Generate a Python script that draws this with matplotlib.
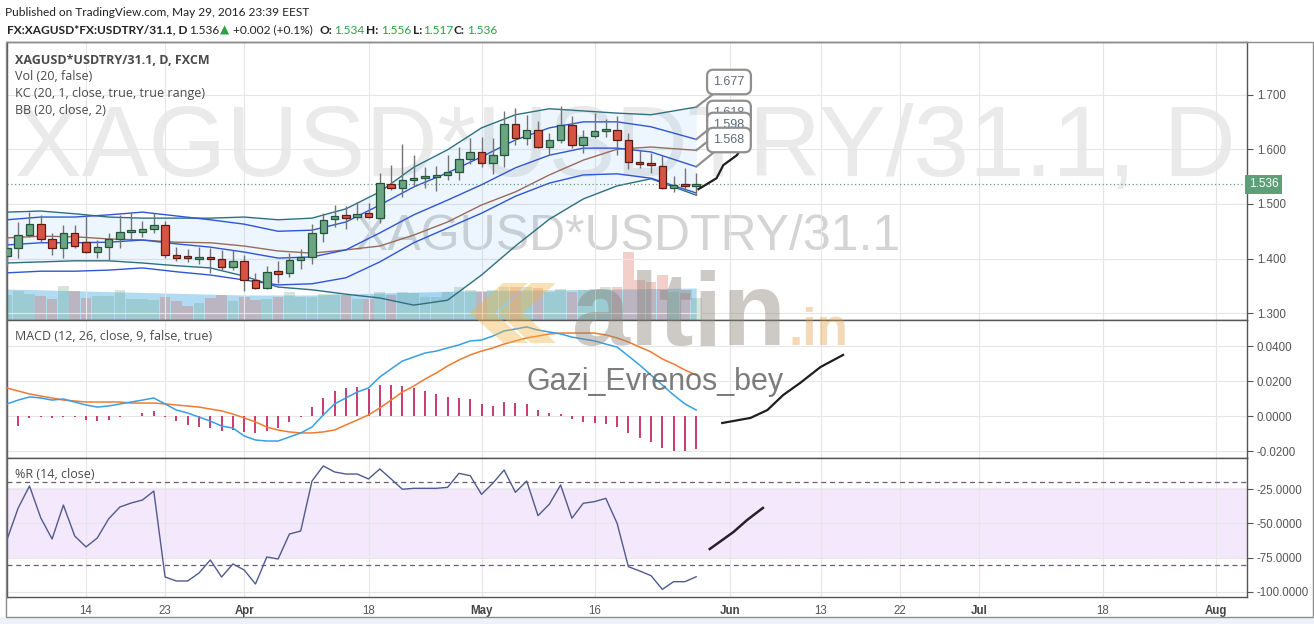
import numpy as np
import matplotlib
matplotlib.use("Agg")
import matplotlib.pyplot as plt
from matplotlib.patches import Polygon, Rectangle

# bar index 0 = 14 Mar 2016, one step per trading day, last bar = 27 May 2016
first_bar = -7
opens = [1.404, 1.419, 1.443, 1.463, 1.435, 1.419, 1.446, 1.431, 1.413, 1.421, 1.435, 1.448, 1.449, 1.454,
         1.461, 1.406, 1.404, 1.399, 1.403, 1.399, 1.384, 1.396, 1.361, 1.346, 1.376, 1.373, 1.398, 1.403,
         1.446, 1.472, 1.478, 1.476, 1.483, 1.474, 1.537, 1.530, 1.544, 1.547, 1.550, 1.553, 1.558, 1.583,
         1.594, 1.574, 1.589, 1.647, 1.620, 1.636, 1.604, 1.616, 1.644, 1.607, 1.625, 1.633, 1.636, 1.616,
         1.577, 1.574, 1.570, 1.530, 1.535, 1.534]
highs = [1.440, 1.467, 1.486, 1.480, 1.446, 1.462, 1.462, 1.480, 1.434, 1.446, 1.480, 1.486, 1.468, 1.483,
         1.468, 1.422, 1.417, 1.421, 1.419, 1.416, 1.416, 1.407, 1.373, 1.387, 1.395, 1.410, 1.417, 1.463,
         1.483, 1.498, 1.496, 1.503, 1.502, 1.557, 1.571, 1.610, 1.589, 1.567, 1.569, 1.589, 1.604, 1.621,
         1.623, 1.621, 1.669, 1.675, 1.663, 1.652, 1.629, 1.679, 1.661, 1.636, 1.667, 1.656, 1.661, 1.629,
         1.599, 1.593, 1.589, 1.551, 1.565, 1.556]
lows = [1.386, 1.401, 1.440, 1.431, 1.407, 1.401, 1.419, 1.410, 1.401, 1.398, 1.419, 1.434, 1.440, 1.446,
        1.401, 1.395, 1.393, 1.390, 1.373, 1.379, 1.379, 1.340, 1.344, 1.344, 1.355, 1.366, 1.381, 1.390,
        1.431, 1.457, 1.454, 1.471, 1.474, 1.466, 1.526, 1.512, 1.532, 1.530, 1.523, 1.544, 1.544, 1.573,
        1.568, 1.555, 1.568, 1.608, 1.608, 1.602, 1.589, 1.612, 1.602, 1.593, 1.620, 1.623, 1.589, 1.564,
        1.565, 1.556, 1.527, 1.522, 1.526, 1.517]
closes = [1.419, 1.443, 1.463, 1.435, 1.419, 1.446, 1.423, 1.413, 1.421, 1.435, 1.448, 1.453, 1.454, 1.461,
          1.406, 1.401, 1.401, 1.403, 1.399, 1.384, 1.396, 1.361, 1.346, 1.375, 1.373, 1.398, 1.403, 1.446,
          1.471, 1.478, 1.476, 1.482, 1.476, 1.538, 1.530, 1.544, 1.547, 1.551, 1.553, 1.559, 1.583, 1.594,
          1.574, 1.589, 1.647, 1.620, 1.636, 1.604, 1.617, 1.644, 1.607, 1.623, 1.633, 1.636, 1.617, 1.576,
          1.573, 1.571, 1.530, 1.535, 1.534, 1.536]
volumes = [25, 29, 26, 24, 21, 34, 29, 22, 24, 24, 30, 21, 21, 20,
           23, 19, 14, 17, 22, 25, 19, 23, 20, 21, 23, 28, 23, 23,
           26, 26, 25, 21, 21, 28, 25, 28, 27, 23, 23, 28, 33, 30,
           28, 30, 33, 33, 33, 32, 28, 31, 28, 30, 31, 33, 33, 68,
           40, 38, 45, 28, 27, 22]
vol_ma_idx = [-7, 0, 7, 14, 20, 26, 33, 40, 47, 54]
vol_ma = [31, 29, 27, 25, 25, 27, 29, 30, 31, 32]

# Bollinger (20, 2) and Keltner (20, 1) channels read at every third bar
band_idx = [-7, -4, -1, 2, 5, 8, 11, 14, 17, 20, 23, 26, 29, 32, 35, 38, 41, 44, 47, 50, 54]
bb_upper = [1.485, 1.487, 1.482, 1.476, 1.474, 1.474, 1.474, 1.476, 1.471, 1.474, 1.491, 1.522, 1.567, 1.599,
            1.639, 1.663, 1.674, 1.670, 1.666, 1.663, 1.677]
bb_basis = [1.438, 1.441, 1.440, 1.436, 1.434, 1.430, 1.429, 1.423, 1.414, 1.410, 1.416, 1.423, 1.443, 1.467,
            1.498, 1.522, 1.553, 1.580, 1.600, 1.604, 1.598]
bb_lower = [1.392, 1.394, 1.396, 1.396, 1.392, 1.387, 1.383, 1.368, 1.348, 1.343, 1.335, 1.328, 1.315, 1.324,
            1.370, 1.423, 1.472, 1.509, 1.533, 1.546, 1.516]
kc_upper = [1.471, 1.476, 1.476, 1.480, 1.485, 1.478, 1.471, 1.463, 1.450, 1.452, 1.467, 1.498, 1.531, 1.557,
            1.586, 1.617, 1.639, 1.650, 1.650, 1.641, 1.618]
kc_basis = [1.425, 1.429, 1.429, 1.430, 1.434, 1.427, 1.421, 1.412, 1.401, 1.403, 1.416, 1.447, 1.480, 1.507,
            1.535, 1.566, 1.589, 1.602, 1.602, 1.595, 1.568]
kc_lower = [1.374, 1.377, 1.377, 1.379, 1.383, 1.376, 1.370, 1.361, 1.352, 1.354, 1.365, 1.394, 1.429, 1.456,
            1.483, 1.514, 1.538, 1.553, 1.555, 1.547, 1.520]
callout_vals = [1.677, 1.618, 1.598, 1.568]
last_price = 1.536

macd = [0.0069, 0.0091, 0.0109, 0.0103, 0.0091, 0.0097, 0.0080, 0.0063, 0.0051, 0.0057, 0.0069, 0.0080,
        0.0091, 0.0103, 0.0069, 0.0034, 0.0017, -0.0006, -0.0029, -0.0057, -0.0069, -0.0114, -0.0137,
        -0.0143, -0.0143, -0.0120, -0.0097, -0.0063, 0.0006, 0.0069, 0.0103, 0.0137, 0.0160, 0.0223,
        0.0269, 0.0314, 0.0337, 0.0360, 0.0371, 0.0389, 0.0406, 0.0429, 0.0434, 0.0457, 0.0486, 0.0497,
        0.0509, 0.0491, 0.0480, 0.0469, 0.0451, 0.0440, 0.0429, 0.0411, 0.0394, 0.0343, 0.0291, 0.0234,
        0.0177, 0.0120, 0.0069, 0.0034]
signal = [0.0160, 0.0143, 0.0126, 0.0114, 0.0103, 0.0091, 0.0086, 0.0080, 0.0080, 0.0080, 0.0080, 0.0074,
          0.0074, 0.0074, 0.0069, 0.0063, 0.0057, 0.0051, 0.0040, 0.0029, 0.0011, -0.0011, -0.0034,
          -0.0063, -0.0080, -0.0091, -0.0097, -0.0097, -0.0091, -0.0080, -0.0051, -0.0023, 0.0006, 0.0046,
          0.0091, 0.0137, 0.0171, 0.0211, 0.0246, 0.0286, 0.0320, 0.0349, 0.0371, 0.0389, 0.0411, 0.0429,
          0.0446, 0.0457, 0.0469, 0.0474, 0.0474, 0.0474, 0.0474, 0.0463, 0.0446, 0.0423, 0.0394, 0.0366,
          0.0326, 0.0297, 0.0263, 0.0234]
hist = [-0.0090, -0.0057, -0.0013, -0.0008, -0.0010, -0.0004, -0.0008, -0.0023, -0.0027, -0.0023, -0.0004,
        0.0002, 0.0015, 0.0030, -0.0004, -0.0027, -0.0051, -0.0061, -0.0070, -0.0084, -0.0080, -0.0090,
        -0.0099, -0.0084, -0.0070, -0.0032, -0.0004, 0.0050, 0.0101, 0.0145, 0.0158, 0.0164, 0.0155,
        0.0177, 0.0177, 0.0171, 0.0158, 0.0145, 0.0126, 0.0107, 0.0101, 0.0095, 0.0069, 0.0057, 0.0080,
        0.0076, 0.0069, 0.0034, 0.0015, 0.0010, -0.0019, -0.0032, -0.0038, -0.0046, -0.0061, -0.0095,
        -0.0128, -0.0147, -0.0181, -0.0198, -0.0198, -0.0187]
willr = [-62.1, -38.8, -22.8, -46.1, -61.4, -36.7, -59.2, -67.2, -60.7, -46.8, -38.1, -35.2, -33.0, -26.5,
         -89.1, -92.0, -92.0, -86.2, -76.7, -89.1, -79.6, -84.0, -94.2, -74.5, -76.0, -57.8, -55.6, -19.2,
         -8.2, -12.6, -14.1, -14.1, -17.7, -10.4, -17.7, -25.2, -24.5, -24.5, -24.5, -23.8, -13.6, -15.3,
         -28.9, -20.8, -11.2, -27.4, -19.2, -44.4, -36.1, -22.1, -46.3, -35.4, -34.2, -31.8, -50.0, -81.6,
         -84.7, -88.1, -98.1, -92.5, -92.5, -88.9]

# hand drawn projections on the published chart (bar index, value)
proj_price_x = [54.2, 55.8, 56.4, 57.0, 57.6, 57.9]
proj_price_y = [1.527, 1.547, 1.571, 1.580, 1.589, 1.599]
proj_macd_x = [56.3, 58.8, 60.3, 61.7, 63.2, 65.0, 67.0]
proj_macd_y = [-0.0040, -0.0011, 0.0034, 0.0120, 0.0189, 0.0280, 0.0349]
proj_wr_x = [55.2, 57.3, 58.5, 59.9]
proj_wr_y = [-68.7, -56.3, -47.6, -38.8]

tick_idx = [0, 7, 14, 25, 35, 45, 57, 65, 72, 79, 90, 100]
tick_labels = ["14", "23", "Apr", "18", "May", "16", "Jun", "13", "22", "Jul", "18", "Aug"]
months = ["Apr", "May", "Jun", "Jul", "Aug"]

W, H = 1314, 624
plt.rcParams["font.family"] = ["Liberation Sans", "DejaVu Sans"]
fig = plt.figure(figsize=(W / 100, H / 100), dpi=100)
fig.patch.set_facecolor("white")


def rect(x0, y0, x1, y1):
    return [x0 / W, 1 - y1 / H, (x1 - x0) / W, (y1 - y0) / H]


def fx(px):
    return px / W


def fy(py):
    return 1 - py / H


# background strip under the time scale and outer frame
fig.add_artist(Rectangle((0, 0), 1, fy(617), transform=fig.transFigure, fc="#eef1f6", ec="none", zorder=-5))
fig.add_artist(Rectangle((fx(6), fy(617)), fx(1307), (617 - 42) / H, transform=fig.transFigure,
                         fill=False, ec="#8c8c8c", lw=1, zorder=10))

ax_p = fig.add_axes(rect(7, 42, 1247, 320))
ax_v = ax_p.twinx()
ax_m = fig.add_axes(rect(7, 320, 1247, 458))
ax_r = fig.add_axes(rect(7, 458, 1247, 597))

xmin, xmax = -6.99, 102.74
x = np.arange(first_bar, first_bar + len(closes))
grid_c = "#e6e6e6"
tick_c = "#555555"

for ax in (ax_p, ax_m, ax_r):
    ax.set_xlim(xmin, xmax)
    ax.yaxis.tick_right()
    ax.set_xticks(tick_idx)
    ax.grid(True, color=grid_c, lw=0.8)
    ax.set_axisbelow(True)
    ax.tick_params(axis="y", length=4, width=0.8, color=tick_c, labelcolor=tick_c, labelsize=8.3, pad=3)
    ax.tick_params(axis="x", length=0, labelbottom=False)
    for s in ax.spines.values():
        s.set_color("#555555")
        s.set_linewidth(1)

# ---- volume (behind the price pane)
ax_v.set_zorder(ax_p.get_zorder() - 1)
ax_p.patch.set_visible(False)
ax_v.set_ylim(0, 278)
ax_v.set_yticks([])
ax_v.tick_params(axis="y", length=0, labelright=False)
for s in ax_v.spines.values():
    s.set_visible(False)
o, h, l, c = map(np.array, (opens, highs, lows, closes))
up = c >= o
ax_v.fill_between(vol_ma_idx, 0, vol_ma, color="#7cc3ea", alpha=0.6, lw=0, zorder=1)
ax_v.bar(x, volumes, width=0.95, color=np.where(up, "#6ba583", "#d75442"), alpha=0.28, lw=0, zorder=2)

# watermarks
ax_v.text(fx(15), fy(150), "XAGUSD*USDTRY/31.1, D", transform=fig.transFigure, fontsize=72,
          color="#eaeaea", va="center", ha="left", zorder=0)
ax_v.text(fx(355), fy(237), "XAGUSD*USDTRY/31.1", transform=fig.transFigure, fontsize=36,
          color="#d4d4d4", va="center", ha="left", zorder=0)

# ---- price pane
ax_p.set_ylim(1.2878, 1.796)
ax_p.set_yticks([1.3, 1.4, 1.5, 1.6, 1.7])
ax_p.set_yticklabels([f"{v:.3f}" for v in [1.3, 1.4, 1.5, 1.6, 1.7]])
ax_p.fill_between(band_idx, bb_lower, bb_upper, color="#2196f3", alpha=0.08, lw=0, zorder=1)
ax_p.plot(band_idx, bb_upper, color="#2f6f80", lw=1.0, zorder=2)
ax_p.plot(band_idx, bb_lower, color="#2f6f80", lw=1.0, zorder=2)
ax_p.plot(band_idx, bb_basis, color="#9a6a5a", lw=1.0, zorder=2)
for band in (kc_upper, kc_basis, kc_lower):
    ax_p.plot(band_idx, band, color="#2f55d4", lw=1.0, zorder=2)

ax_p.vlines(x, l, h, color="#737375", lw=1, zorder=3)
body = np.abs(c - o)
small = body < 0.004
height = np.where(small, 0.004, body)
bottom = np.where(small, (o + c) / 2 - 0.002, np.minimum(o, c))
ax_p.bar(x, height, bottom=bottom, width=0.66, color=np.where(up, "#6ba583", "#d75442"),
         edgecolor=np.where(up, "#225437", "#5b1a13"), lw=0.9, zorder=4)

ax_p.axhline(last_price, color="#6b9b80", ls=(0, (1, 2)), lw=0.9, zorder=2)
ax_p.text(1.0015, last_price, f"{last_price:.3f}", transform=ax_p.get_yaxis_transform(), fontsize=8.5,
          color="white", va="center", ha="left",
          bbox=dict(boxstyle="square,pad=0.3", fc="#5f9f78", ec="none"), clip_on=False, zorder=6)

box_y = [82, 113, 125, 140]
for v, by in zip(callout_vals, box_y):
    ax_p.annotate(f"{v:.3f}", xy=(x[-1], v), xytext=(729, H - by), textcoords="figure pixels",
                  fontsize=9, color="#5c6b7a", ha="center", va="center", annotation_clip=False,
                  bbox=dict(boxstyle="round,pad=0.5", fc="white", ec="#8f8f8f", lw=1.6),
                  arrowprops=dict(arrowstyle="-", color="#8f8f8f", lw=1.6, shrinkA=0, shrinkB=0), zorder=6)
ax_p.plot(proj_price_x, proj_price_y, color="#1e1e1e", lw=1.6, zorder=5)

lab = dict(fontsize=9, color="#4a4a4a", ha="left", va="center", family=["Open Sans", "DejaVu Sans"])
fig.text(fx(15), fy(60), "XAGUSD*USDTRY/31.1, D, FXCM", fontweight="bold", **lab)
fig.text(fx(15), fy(77), "Vol (20, false)", **lab)
fig.text(fx(15), fy(94), "KC (20, 1, close, true, true range)", **lab)
fig.text(fx(15), fy(111), "BB (20, close, 2)", **lab)
fig.text(fx(15), fy(336), "MACD (12, 26, close, 9, false, true)", **lab)
fig.text(fx(15), fy(475), "%R (14, close)", **lab)

# ---- MACD pane
ax_m.set_ylim(-0.024, 0.05486)
ax_m.set_yticks([-0.02, 0.0, 0.02, 0.04])
ax_m.set_yticklabels([f"{v:.4f}" for v in [-0.02, 0.0, 0.02, 0.04]])
ax_m.vlines(x, 0, hist, color="#c2185b", lw=1.2, zorder=2)
ax_m.plot(x, signal, color="#f07a32", lw=1.1, zorder=3)
ax_m.plot(x, macd, color="#35a0e6", lw=1.1, zorder=3)
ax_m.plot(proj_macd_x, proj_macd_y, color="#1e1e1e", lw=1.6, zorder=4)

# ---- Williams %R pane
ax_r.set_ylim(-103.66, -2.42)
ax_r.set_yticks([-25, -50, -75, -100])
ax_r.set_yticklabels([f"{v:.4f}" for v in [-25, -50, -75, -100]])
ax_r.axhspan(-76, -24, color="#f4e8fd", lw=0, zorder=0.5)
ax_r.axhline(-20, color="#6b5b7b", ls=(0, (4, 3)), lw=0.9, zorder=1)
ax_r.axhline(-80, color="#6b5b7b", ls=(0, (4, 3)), lw=0.9, zorder=1)
ax_r.plot(x, willr, color="#4f5a8e", lw=1.0, zorder=3)
ax_r.plot(proj_wr_x, proj_wr_y, color="#2a1e2a", lw=1.8, zorder=4)

ax_r.tick_params(axis="x", labelbottom=True, pad=6, labelsize=8.3, labelcolor="#555555")
ax_r.set_xticklabels(tick_labels)
for t in ax_r.get_xticklabels():
    if t.get_text() in months:
        t.set_fontweight("bold")
        t.set_color("#444444")

# ---- altin.in logo and author
logo_c = "#f2b446"
for dx in (0, 28):
    fig.add_artist(Polygon([(fx(470 + dx), fy(313)), (fx(503 + dx), fy(283)), (fx(528 + dx), fy(283)),
                            (fx(495 + dx), fy(313)), (fx(528 + dx), fy(343)), (fx(503 + dx), fy(343))],
                           closed=True, transform=fig.transFigure, fc=logo_c, ec="none", alpha=0.4, zorder=7))
fig.text(fx(572), fy(345), "altin", fontsize=75, fontweight="bold", color="#8a8276", alpha=0.42,
         ha="left", va="baseline", zorder=7)
fig.text(fx(788), fy(345), ".in", fontsize=37, fontweight="bold", color="#e3a24a", alpha=0.4,
         ha="left", va="baseline", zorder=7)
fig.text(fx(527), fy(382), "Gazi_Evrenos_bey", fontsize=22, color="#6e6e6e", alpha=0.9,
         ha="left", va="center", zorder=7)

# ---- header
hdr = dict(fontsize=8.6, va="center", ha="left", family=["Lato", "DejaVu Sans"])
green = "#2ea043"
fig.text(fx(5), fy(12), "Published on TradingView.com, May 29, 2016 23:39 EEST", color="#222222", **hdr)
parts = [(7, "FX:XAGUSD*FX:USDTRY/31.1, D", "#222222", "bold"),
         (189, "1.536", "#222222", "normal"),
         (220, "\u25b2", green, "normal"),
         (233, "+0.002 (+0.1%)", "#222222", "normal"),
         (320, "O:", "#222222", "bold"), (334, "1.534", green, "normal"),
         (366, "H:", "#222222", "bold"), (381, "1.556", green, "normal"),
         (413, "L:", "#222222", "bold"), (423, "1.517", green, "normal"),
         (454, "C:", "#222222", "bold"), (467, "1.536", green, "normal")]
for px, s, col, wt in parts:
    fig.text(fx(px), fy(30), s, color=col, fontweight=wt, **hdr)

fig.savefig("out.png", dpi=100)
